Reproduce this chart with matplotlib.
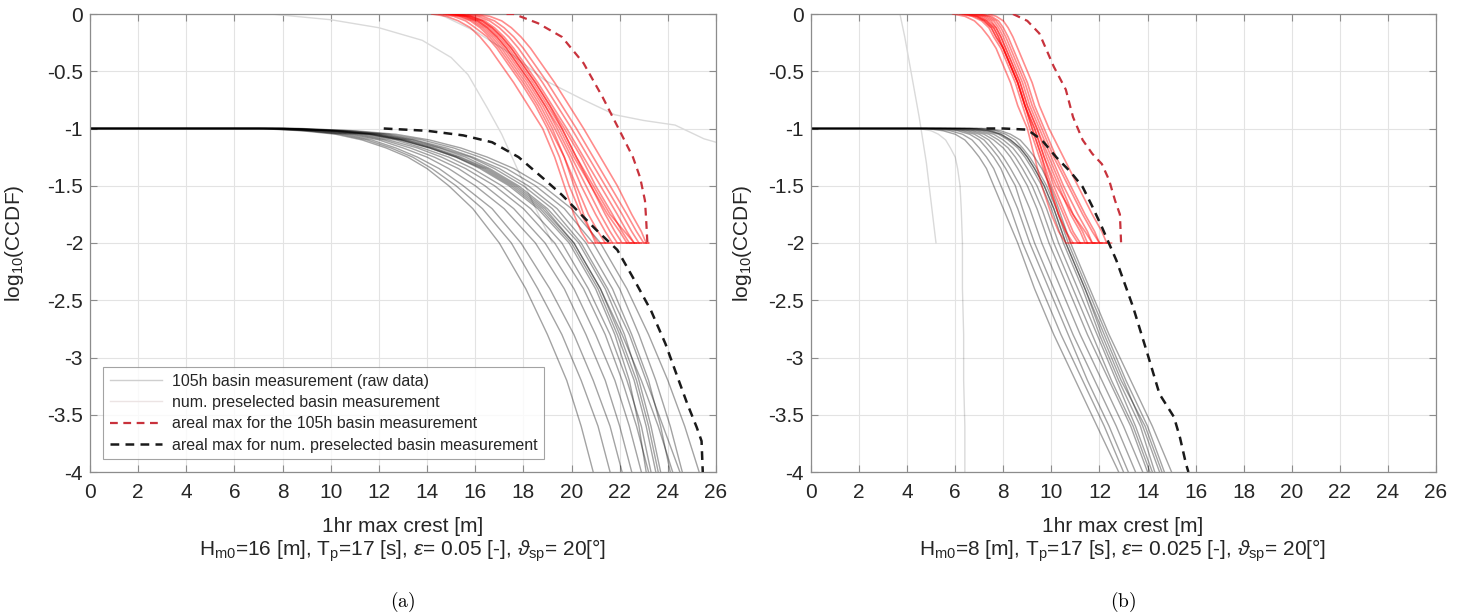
import numpy as np
import matplotlib
matplotlib.use("Agg")
import matplotlib.pyplot as plt
from matplotlib.lines import Line2D

plt.rcParams['font.family'] = ['Liberation Sans', 'DejaVu Sans']
plt.rcParams['axes.unicode_minus'] = False
plt.rcParams['mathtext.fontset'] = 'custom'
plt.rcParams['mathtext.rm'] = 'Liberation Sans'
plt.rcParams['mathtext.it'] = 'Liberation Sans:italic'

# common log10(CCDF) levels used when reading the curves off the picture
y_pre = [-1.0, -1.0, -1.02, -1.05, -1.1, -1.17, -1.25, -1.35, -1.5, -1.7, -2.0, -2.4, -2.8, -3.2, -3.6, -4.0]
y_red = [0, -0.02, -0.06, -0.12, -0.2, -0.3, -0.45, -0.6, -0.8, -1.0, -1.25, -1.5, -1.75, -1.9, -2.0, -2.0]

# ---------------- panel (a) ----------------
xa_pre = [
    [0, 8.8, 11.0, 12.7, 14.1, 15.4, 16.5, 17.6, 18.8, 20.0, 21.2, 22.3, 23.2, 24.0, 24.7, 25.3],
    [0, 8.6, 10.8, 12.4, 13.8, 15.1, 16.2, 17.3, 18.5, 19.7, 20.9, 22.0, 22.8, 23.5, 24.1, 24.6],
    [0, 8.4, 10.5, 12.2, 13.5, 14.8, 15.9, 17.0, 18.2, 19.4, 20.6, 21.7, 22.5, 23.2, 23.7, 24.1],
    [0, 8.2, 10.3, 11.9, 13.2, 14.5, 15.6, 16.6, 17.8, 19.0, 20.3, 21.4, 22.2, 22.8, 23.3, 23.7],
    [0, 8.0, 10.0, 11.6, 12.9, 14.1, 15.2, 16.2, 17.4, 18.6, 19.9, 21.0, 21.8, 22.4, 22.8, 23.1],
    [0, 8.0, 10.0, 11.6, 12.9, 14.1, 15.2, 16.3, 17.5, 18.7, 20.0, 21.1, 21.9, 22.6, 23.1, 23.5],
    [0, 8.1, 10.2, 11.8, 13.1, 14.3, 15.4, 16.5, 17.7, 18.9, 20.1, 21.2, 22.0, 22.7, 23.2, 23.6],
    [0, 7.9, 9.8, 11.4, 12.7, 13.8, 14.9, 15.9, 17.1, 18.3, 19.6, 20.7, 21.6, 22.3, 22.9, 23.3],
    [0, 7.8, 9.7, 11.2, 12.4, 13.6, 14.6, 15.6, 16.8, 18.0, 19.3, 20.5, 21.4, 22.1, 22.7, 23.2],
    [0, 7.6, 9.5, 11.0, 12.2, 13.3, 14.3, 15.3, 16.4, 17.6, 18.9, 20.1, 21.0, 21.8, 22.4, 22.9],
    [0, 7.5, 9.3, 10.8, 12.0, 13.0, 14.0, 14.9, 16.0, 17.2, 18.5, 19.7, 20.6, 21.4, 22.0, 22.5],
    [0, 7.3, 9.1, 10.6, 11.7, 12.7, 13.6, 14.5, 15.5, 16.7, 17.9, 19.1, 20.1, 20.9, 21.6, 22.1],
    [0, 7.2, 9.0, 10.4, 11.5, 12.5, 13.4, 14.2, 15.2, 16.3, 17.5, 18.6, 19.6, 20.4, 21.1, 21.6],
    [0, 7.0, 8.8, 10.2, 11.3, 12.3, 13.2, 14.0, 14.9, 15.9, 17.0, 18.1, 19.0, 19.8, 20.4, 20.9],
    [0, 8.3, 10.4, 12.0, 13.4, 14.6, 15.8, 16.8, 18.0, 19.2, 20.4, 21.5, 22.4, 23.1, 23.8, 24.5],
    [0, 8.1, 10.1, 11.7, 13.0, 14.2, 15.3, 16.4, 17.6, 18.8, 20.1, 21.2, 22.1, 22.9, 23.6, 24.2],
]
xa_red = [
    [14.2, 14.8, 15.3, 15.8, 16.2, 16.6, 17.1, 17.6, 18.2, 18.8, 19.3, 19.7, 20.1, 20.4, 20.7, 21.0],
    [14.5, 15.1, 15.6, 16.0, 16.5, 16.9, 17.4, 17.9, 18.5, 19.0, 19.5, 19.9, 20.4, 20.8, 21.0, 21.4],
    [14.7, 15.3, 15.8, 16.2, 16.6, 17.0, 17.5, 18.0, 18.6, 19.1, 19.7, 20.2, 20.7, 21.1, 21.4, 21.7],
    [14.9, 15.5, 16.0, 16.4, 16.8, 17.2, 17.7, 18.2, 18.8, 19.3, 19.9, 20.4, 21.0, 21.4, 21.7, 22.0],
    [15.0, 15.6, 16.1, 16.5, 16.9, 17.3, 17.8, 18.3, 18.9, 19.4, 20.0, 20.6, 21.2, 21.6, 21.9, 22.3],
    [15.1, 15.7, 16.2, 16.6, 17.0, 17.4, 17.9, 18.4, 19.0, 19.6, 20.2, 20.8, 21.4, 21.8, 22.1, 22.5],
    [15.2, 15.8, 16.3, 16.7, 17.1, 17.5, 18.0, 18.5, 19.1, 19.7, 20.4, 21.0, 21.7, 22.1, 22.4, 22.7],
    [15.3, 15.9, 16.4, 16.8, 17.2, 17.6, 18.1, 18.6, 19.2, 19.8, 20.5, 21.2, 21.9, 22.3, 22.6, 22.9],
    [15.5, 16.1, 16.6, 17.0, 17.4, 17.8, 18.3, 18.8, 19.4, 20.0, 20.7, 21.4, 22.1, 22.5, 22.8, 23.1],
    [15.7, 16.3, 16.8, 17.2, 17.6, 18.0, 18.5, 19.0, 19.6, 20.2, 20.9, 21.6, 22.3, 22.7, 23.0, 23.2],
    [16.0, 16.6, 17.1, 17.5, 17.9, 18.3, 18.8, 19.3, 19.9, 20.5, 21.2, 21.9, 22.5, 22.9, 23.1, 23.2],
    [14.8, 15.4, 15.9, 16.3, 16.7, 17.1, 17.6, 18.1, 18.7, 19.2, 19.7, 20.1, 20.5, 20.8, 21.1, 21.6],
    [15.0, 15.6, 16.1, 16.5, 16.9, 17.3, 17.8, 18.3, 18.9, 19.5, 20.1, 20.8, 21.5, 22.0, 22.3, 22.6],
    [15.2, 15.8, 16.3, 16.7, 17.1, 17.5, 18.0, 18.5, 19.1, 19.6, 20.2, 20.9, 21.6, 22.2, 22.6, 22.8],
]
xa_redmax = [17.3, 17.6, 18.6, 19.6, 20.5, 21.3, 22.0, 22.55, 22.85, 23.05, 23.1, 23.15]
ya_redmax = [0, 0, -0.08, -0.2, -0.43, -0.73, -1.02, -1.25, -1.43, -1.63, -1.8, -2.0]
xa_premax = [12.2, 14.0, 15.5, 16.7, 17.8, 18.85, 19.6, 20.3, 21.0, 21.9, 22.6, 23.3,
             23.9, 24.4, 24.8, 25.2, 25.4, 25.45]
ya_premax = [-1.0, -1.02, -1.06, -1.12, -1.25, -1.44, -1.58, -1.73, -1.88, -2.06, -2.32,
             -2.59, -2.88, -3.17, -3.4, -3.61, -3.73, -4.0]
xa_raw = [[7.5, 10.0, 12.0, 13.8, 15.0, 15.7, 16.5, 17.1, 17.7, 18.4, 19.2],
          [14.5, 16.0, 17.5, 18.9, 20.5, 21.8, 23.0, 24.3, 25.5, 26.0]]
ya_raw = [[0, -0.05, -0.12, -0.23, -0.38, -0.53, -0.82, -1.05, -1.33, -1.65, -2.0],
          [0, -0.15, -0.35, -0.58, -0.75, -0.88, -0.93, -0.97, -1.09, -1.12]]

# ---------------- panel (b) ----------------
xb_pre = [
    [0, 7.3, 7.9, 8.3, 8.7, 9.0, 9.3, 9.6, 9.95, 10.3, 10.8, 11.6, 12.4, 13.3, 14.2, 15.0],
    [0, 7.1, 7.7, 8.1, 8.5, 8.8, 9.1, 9.4, 9.8, 10.2, 10.7, 11.5, 12.3, 13.1, 14.0, 14.7],
    [0, 6.9, 7.5, 7.9, 8.3, 8.7, 9.0, 9.3, 9.7, 10.1, 10.6, 11.4, 12.2, 13.0, 13.8, 14.5],
    [0, 6.6, 7.3, 7.8, 8.2, 8.6, 8.9, 9.2, 9.6, 10.0, 10.5, 11.3, 12.0, 12.8, 13.7, 14.3],
    [0, 6.4, 7.1, 7.6, 8.0, 8.4, 8.7, 9.0, 9.4, 9.8, 10.3, 11.1, 11.9, 12.7, 13.5, 14.2],
    [0, 6.2, 6.9, 7.4, 7.8, 8.2, 8.5, 8.8, 9.2, 9.6, 10.1, 10.9, 11.7, 12.5, 13.4, 14.1],
    [0, 6.0, 6.7, 7.2, 7.6, 8.0, 8.3, 8.6, 9.0, 9.4, 9.9, 10.7, 11.5, 12.4, 13.3, 14.0],
    [0, 5.8, 6.5, 7.0, 7.4, 7.7, 8.0, 8.3, 8.7, 9.1, 9.6, 10.4, 11.2, 12.1, 13.0, 13.8],
    [0, 5.6, 6.3, 6.8, 7.2, 7.5, 7.8, 8.1, 8.5, 8.8, 9.3, 10.1, 10.9, 11.8, 12.7, 13.5],
    [0, 5.4, 6.1, 6.6, 7.0, 7.3, 7.6, 7.9, 8.2, 8.6, 9.1, 9.9, 10.7, 11.5, 12.4, 13.2],
    [0, 5.1, 5.8, 6.3, 6.7, 7.0, 7.3, 7.6, 7.9, 8.3, 8.8, 9.6, 10.4, 11.3, 12.2, 13.0],
    [0, 4.8, 5.5, 6.0, 6.4, 6.7, 7.0, 7.3, 7.6, 8.0, 8.6, 9.3, 10.1, 11.0, 11.9, 12.8],
    [0, 6.7, 7.4, 7.9, 8.3, 8.7, 9.0, 9.3, 9.7, 10.1, 10.6, 11.4, 12.1, 12.9, 13.9, 14.6],
]
# faint, almost vertical preselected curve in (b)
xb_faint = [0, 4.5, 5.0, 5.3, 5.6, 5.8, 6.0, 6.1, 6.2, 6.25, 6.3, 6.3, 6.35, 6.35, 6.4, 6.4]
xb_red = [
    [5.9, 6.4, 6.8, 7.1, 7.4, 7.7, 8.0, 8.3, 8.6, 9.0, 9.3, 9.6, 10.0, 10.3, 10.6, 10.9],
    [6.2, 6.7, 7.1, 7.4, 7.6, 7.9, 8.2, 8.5, 8.8, 9.1, 9.5, 9.9, 10.3, 10.6, 10.8, 11.2],
    [6.4, 6.9, 7.2, 7.5, 7.7, 8.0, 8.3, 8.6, 8.9, 9.2, 9.6, 10.0, 10.5, 10.8, 11.1, 11.5],
    [6.6, 7.0, 7.3, 7.6, 7.8, 8.0, 8.3, 8.6, 8.9, 9.3, 9.7, 10.1, 10.6, 10.9, 11.2, 11.6],
    [6.7, 7.1, 7.4, 7.7, 7.9, 8.1, 8.4, 8.7, 9.0, 9.4, 9.8, 10.3, 10.8, 11.2, 11.4, 11.8],
    [6.9, 7.3, 7.6, 7.8, 8.0, 8.2, 8.5, 8.8, 9.1, 9.5, 10.0, 10.5, 11.1, 11.5, 11.7, 12.0],
    [7.1, 7.5, 7.8, 8.0, 8.2, 8.4, 8.7, 9.0, 9.3, 9.7, 10.2, 10.8, 11.4, 11.8, 12.0, 12.3],
    [7.4, 7.7, 8.0, 8.2, 8.4, 8.6, 8.9, 9.2, 9.5, 9.9, 10.5, 11.1, 11.7, 12.1, 12.3, 12.5],
    [6.5, 6.9, 7.3, 7.6, 7.8, 8.0, 8.3, 8.6, 8.9, 9.3, 9.7, 10.2, 10.9, 11.4, 11.7, 12.1],
    [6.8, 7.2, 7.5, 7.7, 7.9, 8.1, 8.4, 8.7, 9.0, 9.4, 9.9, 10.4, 10.9, 11.3, 11.5, 11.9],
    [6.3, 6.8, 7.2, 7.5, 7.7, 8.0, 8.3, 8.6, 8.9, 9.2, 9.6, 9.9, 10.3, 10.6, 10.9, 11.3],
    [7.0, 7.4, 7.7, 7.9, 8.1, 8.3, 8.6, 8.9, 9.2, 9.6, 10.1, 10.7, 11.3, 11.7, 12.0, 12.4],
]
xb_redmax = [8.4, 9.0, 9.5, 10.1, 10.6, 10.9, 11.3, 11.7, 12.1, 12.4, 12.65, 12.85, 12.9]
yb_redmax = [0, -0.06, -0.17, -0.46, -0.66, -0.9, -1.1, -1.22, -1.31, -1.45, -1.63, -1.75, -2.0]
xb_premax = [7.3, 8.0, 9.0, 9.6, 10.2, 10.8, 11.3, 11.7, 12.1, 12.7, 13.4, 14.0, 14.5,
             15.1, 15.35, 15.6, 15.7]
yb_premax = [-1.0, -1.0, -1.01, -1.1, -1.25, -1.38, -1.51, -1.68, -1.86, -2.15, -2.56,
             -2.97, -3.32, -3.52, -3.7, -3.93, -4.0]
xb_raw = [[3.7, 3.9, 4.2, 4.5, 4.8, 5.0, 5.2]]
yb_raw = [[0, -0.2, -0.55, -0.9, -1.3, -1.65, -2.0]]

xticks = np.arange(0, 27, 2)
yticks = np.arange(-4, 0.01, 0.5)
ytick_labels = ['-4', '-3.5', '-3', '-2.5', '-2', '-1.5', '-1', '-0.5', '0']
legend_labels = ["105h basin measurement (raw data)",
                 "num. preselected basin measurement",
                 "areal max for the 105h basin measurement",
                 "areal max for num. preselected basin measurement"]

W, H = 1466, 615
fig = plt.figure(figsize=(W / 100, H / 100), dpi=100)

spine_c = '#8c8c8c'
text_c = '#262626'
raw_c = '#dadada'
redmax_c = '#c8323c'
dash = (0, (3.5, 2.5))


def draw_panel(ax, x_pre, x_red, x_redmax, y_redmax, x_premax, y_premax, x_raw, y_raw):
    for xr, yr in zip(x_raw, y_raw):
        ax.plot(xr, yr, color=raw_c, lw=1.0, zorder=1)
    for xc in x_pre:
        ax.plot(xc, y_pre, color='black', lw=1.0, alpha=0.36, zorder=2)
    for xc in x_red:
        ax.plot(xc, y_red, color='red', lw=1.2, alpha=0.45, zorder=3)
    ax.plot(x_redmax, y_redmax, color=redmax_c, lw=1.6, ls=dash, zorder=4)
    ax.plot(x_premax, y_premax, color='#1a1a1a', lw=1.8, ls=dash, zorder=4)

    ax.set_xlim(0, 26)
    ax.set_ylim(-4, 0)
    ax.set_xticks(xticks)
    ax.set_yticks(yticks)
    ax.set_yticklabels(ytick_labels)
    ax.grid(True, color='#e3e3e3', lw=0.8, zorder=0)
    ax.set_axisbelow(True)
    ax.tick_params(direction='in', top=True, right=True, length=5, width=0.8,
                   colors=spine_c, labelcolor=text_c, labelsize=15)
    ax.tick_params(axis='x', pad=8)
    ax.tick_params(axis='y', pad=5)
    for s in ax.spines.values():
        s.set_color(spine_c)
        s.set_linewidth(0.9)


ax1 = fig.add_axes([90 / W, 1 - 472 / H, 626 / W, 458 / H])
draw_panel(ax1, xa_pre, xa_red, xa_redmax, ya_redmax, xa_premax, ya_premax, xa_raw, ya_raw)
ax2 = fig.add_axes([811 / W, 1 - 472 / H, 625 / W, 458 / H])
draw_panel(ax2, xb_pre, xb_red, xb_redmax, yb_redmax, xb_premax, yb_premax, xb_raw, yb_raw)
ax2.plot(xb_faint, y_pre, color='black', lw=1.0, alpha=0.15, zorder=2)

handles = [Line2D([], [], color='#cfcfcf', lw=1.0),
           Line2D([], [], color='#ece4e4', lw=1.0),
           Line2D([], [], color=redmax_c, lw=1.6, ls=dash),
           Line2D([], [], color='#1a1a1a', lw=1.8, ls=dash)]
leg = ax1.legend(handles, legend_labels, loc='lower left', bbox_to_anchor=(0.021, 0.028),
                 borderaxespad=0, fontsize=11.5, frameon=True, fancybox=False,
                 handlelength=3.3, handletextpad=0.6, labelspacing=0.4, borderpad=0.4)
leg.get_frame().set_edgecolor('#8c8c8c')
leg.get_frame().set_linewidth(0.8)
for t in leg.get_texts():
    t.set_color(text_c)

# axis labels and captions
captions = [
    (403, 15, r"H$_{\mathrm{m0}}$=16 [m], T$_{\mathrm{p}}$=17 [s], $\varepsilon$= 0.05 [-], $\vartheta_{\mathrm{sp}}$= 20[°]", "(a)"),
    (1123, 743, r"H$_{\mathrm{m0}}$=8 [m], T$_{\mathrm{p}}$=17 [s], $\varepsilon$= 0.025 [-], $\vartheta_{\mathrm{sp}}$= 20[°]", "(b)"),
]
for cx, ylx, sub, cap in captions:
    fig.text(cx / W, 1 - 526 / H, "1hr max crest [m]", ha='center', va='center',
             fontsize=15, color=text_c)
    fig.text(cx / W, 1 - 551 / H, sub, ha='center', va='center', fontsize=15, color=text_c)
    fig.text(cx / W, 1 - 602 / H, r"$\mathrm{" + cap + "}$", ha='center', va='center',
             fontsize=14, color='black', math_fontfamily='cm')
    fig.text(ylx / W, 1 - 243 / H, r"log$_{10}$(CCDF)", ha='center', va='center',
             rotation=90, fontsize=15, color=text_c)

fig.savefig("out.png", dpi=100)
